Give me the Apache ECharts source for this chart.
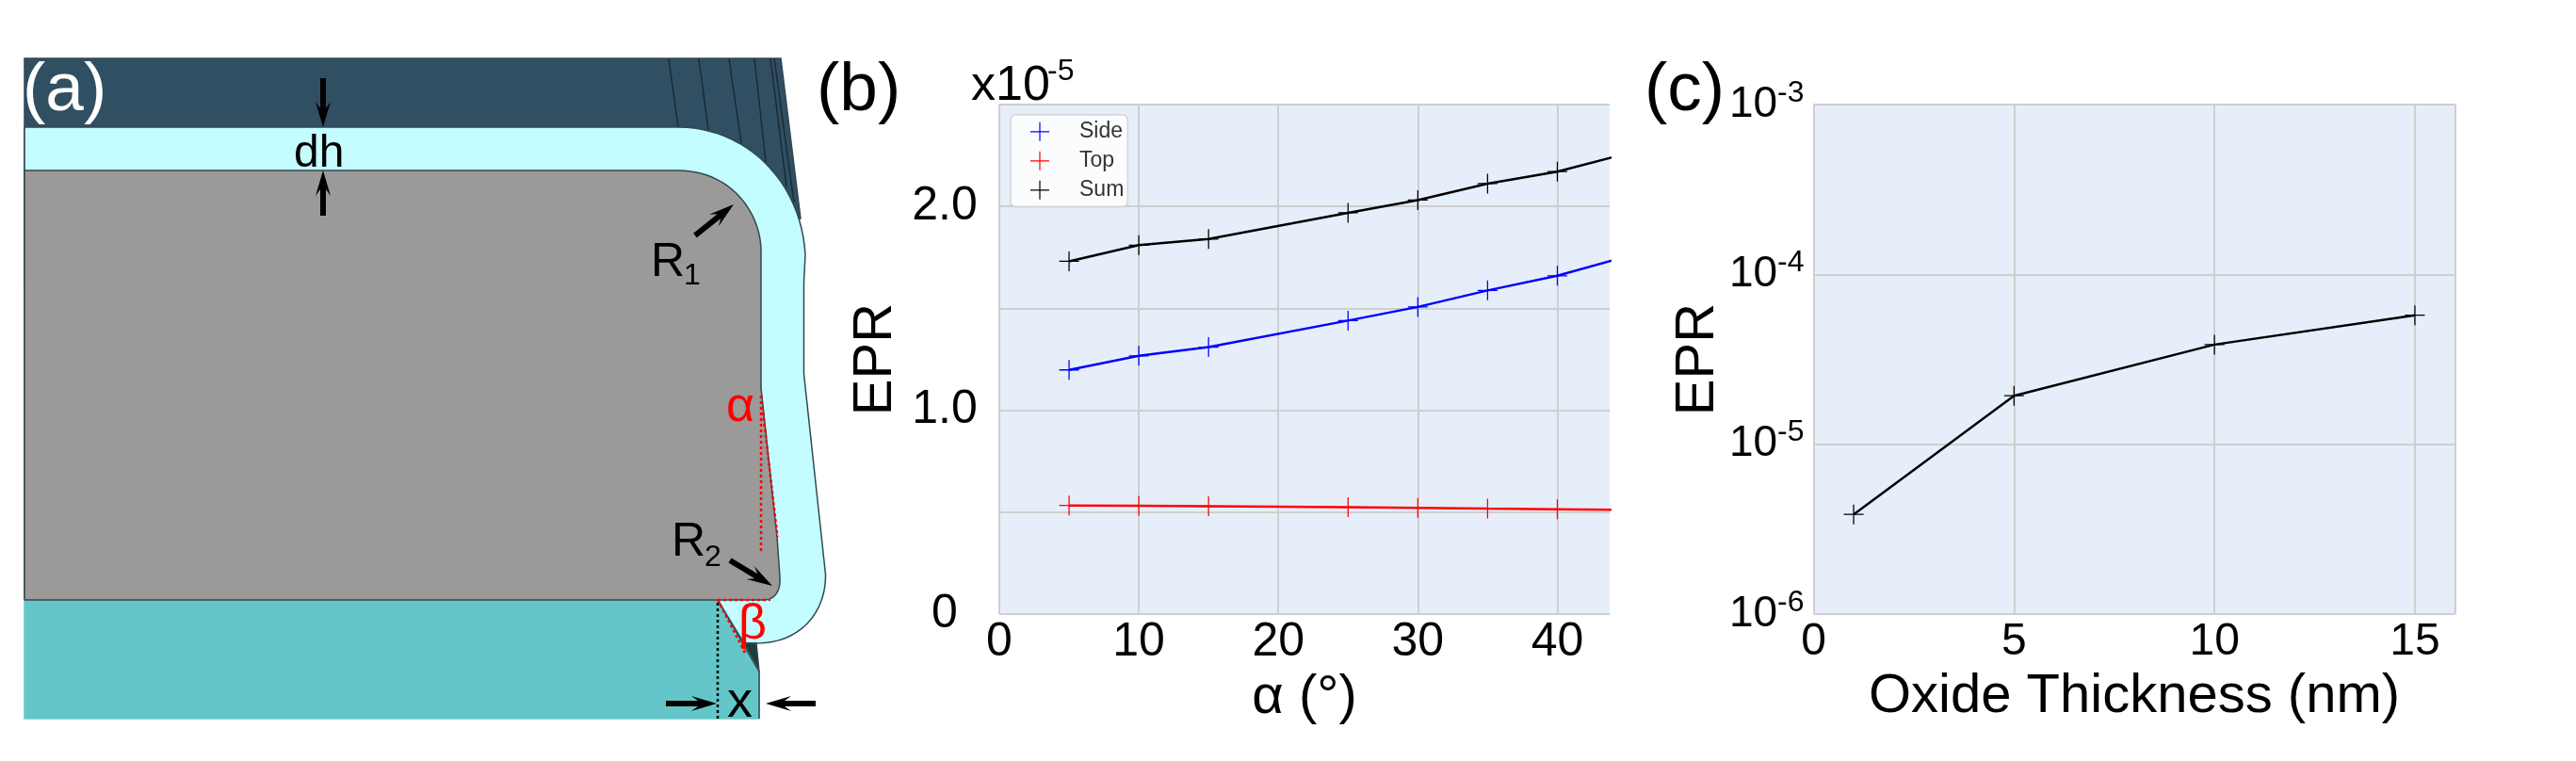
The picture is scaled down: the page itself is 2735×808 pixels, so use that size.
<!DOCTYPE html>
<html>
<head>
<meta charset="utf-8">
<style>
  html, body { margin: 0; padding: 0; background: #fff; }
  #chart { width: 2735px; height: 808px; }
</style>
</head>
<body>
<div id="chart"></div>
<script src="https://cdn.jsdelivr.net/npm/echarts@6/dist/echarts.min.js"></script>
<script>
// panel (b), EPR in units of 1e-5, the last angle runs past the axis end
const angles = [5, 10, 15, 25, 30, 35, 40, 45];
const sideEpr = [1.198, 1.267, 1.31, 1.44, 1.507, 1.588, 1.66, 1.755];
const topEpr = [0.533, 0.531, 0.529, 0.524, 0.521, 0.517, 0.514, 0.511];
const sumEpr = [1.731, 1.81, 1.84, 1.969, 2.031, 2.112, 2.171, 2.26];

// panel (c)
const thickness = [1, 5, 10, 15];
const thicknessEpr = [3.86e-6, 1.93e-5, 3.86e-5, 5.75e-5];

const FONT = '"Liberation Sans", Arial, sans-serif';
const PLUS = 'path://M9.4 0h1.2v9.4H20v1.2h-9.4V20H9.4v-9.4H0V9.4h9.4z';
const GRID_LINE = '#cfcfcf';
const PLOT_BG = '#e6eefa';

const chart = echarts.init(document.getElementById('chart'), null, {renderer: 'canvas'});

const zip = (xs, ys) => xs.map((x, i) => [x, ys[i]]);

const lineSeries = (name, color, xs, ys, index) => ({
    name: name,
    type: 'line',
    xAxisIndex: index,
    yAxisIndex: index,
    data: zip(xs, ys),
    symbol: PLUS,
    symbolSize: 21,
    showSymbol: true,
    clip: true,
    lineStyle: {color: color, width: 2.5},
    itemStyle: {color: color},
    emphasis: {disabled: true}
});

// barbed arrow from (x1,y1) with the tip at (x2,y2)
const arrow = (x1, y1, x2, y2) => {
    const len = Math.hypot(x2 - x1, y2 - y1);
    const ux = (x2 - x1) / len, uy = (y2 - y1) / len;
    const nx = -uy, ny = ux;
    const at = (along, side) => [x1 + ux * along + nx * side, y1 + uy * along + ny * side];
    return {
        type: 'polygon',
        z: 20,
        shape: {points: [
            at(0, -3), at(len - 20, -3), at(len - 27, -8), at(len, 0),
            at(len - 27, 8), at(len - 20, 3), at(0, 3)
        ]},
        style: {fill: '#000'}
    };
};

// sampled corner curve for the device outline
const corner = (a, b, c, d) => {
    const pts = [];
    for (let i = 0; i <= 24; i++) {
        const t = i / 24, s = 1 - t;
        pts.push([
            s * s * s * a[0] + 3 * s * s * t * b[0] + 3 * s * t * t * c[0] + t * t * t * d[0],
            s * s * s * a[1] + 3 * s * s * t * b[1] + 3 * s * t * t * c[1] + t * t * t * d[1]
        ]);
    }
    return pts;
};

const poly = (points, fill, stroke) => ({
    type: 'polygon',
    z: 5,
    shape: {points: points},
    style: {fill: fill, stroke: stroke || '#33474f', lineWidth: 1.5}
});

const seg = (points, color, width, dash) => ({
    type: 'polyline',
    z: 15,
    shape: {points: points},
    style: {fill: null, stroke: color, lineWidth: width, lineDash: dash || null}
});

// y is the text baseline
const label = (x, y, text, size, color) => ({
    type: 'text',
    z: 25,
    x: x,
    y: y - size * 0.76,
    style: {text: text, font: size + 'px ' + FONT, fill: color || '#000'}
});

const oxideOutline = [[26, 135]].concat(
    corner([720, 135], [790, 135], [850, 190], [855, 270]),
    [[853.5, 300], [853.5, 397]],
    corner([876.5, 610], [877, 650], [850, 683], [803, 683]),
    [[790, 683], [762, 637], [26, 637]]
);
const gateOutline = [[26, 181]].concat(
    corner([720, 181], [775, 181], [808, 225], [808, 267]),
    [[808, 412], [825, 570]],
    corner([828, 613], [829, 628], [822, 637], [811, 637]),
    [[26, 637]]
);

const schematic = [
    poly([[26, 62], [829, 62], [850, 232], [700, 300], [26, 300]], '#304f63'),
    seg([[710, 62], [720, 135]], '#1b2b33', 1.5),
    seg([[742, 62], [752, 138]], '#1b2b33', 1.5),
    seg([[774, 62], [787, 152]], '#1b2b33', 1.5),
    seg([[801, 62], [813, 172]], '#1b2b33', 1.5),
    seg([[818, 62], [835, 198]], '#1b2b33', 1.5),
    seg([[822, 62], [843, 215]], '#1b2b33', 1.5),
    poly(oxideOutline, '#c3fdff'),
    poly(gateOutline, '#9b9a98'),
    poly([[790, 683], [803, 683], [806, 713]], '#1c3c42'),
    poly([[26, 637], [762, 637], [806, 713], [806, 763], [26, 763]], '#64c6c8', '#64c6c8'),
    seg([[26, 637], [762, 637]], '#33474f', 1.5),
    seg([[762, 637], [806, 713], [806, 763]], '#33474f', 1.5),

    // red and black guide lines
    seg([[808, 420], [808, 588]], '#ff0000', 2.5, [3, 3]),
    seg([[808, 420], [825.5, 570]], '#ff0000', 2.5, [3, 3]),
    seg([[762, 637], [818, 637]], '#ff0000', 2.5, [3, 3]),
    seg([[762, 637], [792, 695]], '#ff0000', 2.5, [3, 3]),
    seg([[762, 640], [762, 763]], '#000', 2.5, [3, 3]),

    arrow(343, 83, 343, 135),
    arrow(343, 229, 343, 181),
    arrow(738, 250, 779, 217),
    arrow(775, 595, 820, 622),
    arrow(707, 747, 761, 747),
    arrow(866, 747, 813, 747),

    label(312, 176, 'dh', 48),
    label(691, 292, 'R', 50),
    label(726, 301, '1', 32),
    label(713, 589, 'R', 50),
    label(748, 600, '2', 32),
    label(771, 446, 'α', 52, '#ff0000'),
    label(784, 677, 'β', 52, '#ff0000'),
    label(772, 760, 'x', 54),

    // panel letters
    label(24, 116, '(a)', 73, '#fff'),
    label(867, 116, '(b)', 73),
    label(1746, 116, '(c)', 73),

    // exponent above panel (b)
    label(1031, 105, 'x10', 52),
    label(1112, 84, '-5', 32)
];

const option = {
    animation: false,
    backgroundColor: '#fff',
    textStyle: {fontFamily: FONT},
    graphic: schematic,
    grid: [
        {left: 1061, top: 111, width: 648, height: 541, show: true, backgroundColor: PLOT_BG, borderWidth: 0},
        {left: 1925.5, top: 111, width: 681, height: 541, show: true, backgroundColor: PLOT_BG, borderWidth: 0}
    ],
    legend: {
        left: 1073,
        top: 122,
        orient: 'vertical',
        data: ['Side', 'Top', 'Sum'],
        icon: PLUS,
        itemWidth: 20,
        itemHeight: 20,
        itemGap: 8,
        padding: [6.3, 4, 6.3, 21],
        backgroundColor: 'rgba(255,255,255,0.8)',
        borderColor: 'rgba(204,204,204,0.8)',
        borderWidth: 1.5,
        borderRadius: 5,
        textStyle: {fontSize: 23, color: '#333', fontFamily: FONT, padding: [0, 0, 0, 27]}
    },
    xAxis: [
        {
            gridIndex: 0,
            type: 'value',
            min: 0,
            max: 43.75,
            interval: 10,
            name: 'α (°)',
            nameLocation: 'middle',
            nameGap: 56,
            nameTextStyle: {fontSize: 58, color: '#000', fontFamily: FONT},
            axisLine: {show: false},
            axisTick: {show: false},
            splitLine: {show: true, showMaxLine: false, lineStyle: {color: GRID_LINE, width: 2}},
            axisLabel: {fontSize: 50, color: '#000', margin: 5, fontFamily: FONT, showMaxLabel: false}
        },
        {
            gridIndex: 1,
            type: 'value',
            min: 0,
            max: 16,
            interval: 5,
            name: 'Oxide Thickness (nm)',
            nameLocation: 'middle',
            nameGap: 53,
            nameTextStyle: {fontSize: 58, color: '#000', fontFamily: FONT},
            axisLine: {show: false},
            axisTick: {show: false},
            splitLine: {show: true, lineStyle: {color: GRID_LINE, width: 2}},
            axisLabel: {fontSize: 48, color: '#000', margin: 6, fontFamily: FONT, showMaxLabel: false}
        }
    ],
    yAxis: [
        {
            gridIndex: 0,
            type: 'value',
            min: 0,
            max: 2.5,
            interval: 0.5,
            name: 'EPR',
            nameLocation: 'middle',
            nameGap: 102,
            nameTextStyle: {fontSize: 58, color: '#000', fontFamily: FONT},
            axisLine: {show: false},
            axisTick: {show: false},
            splitLine: {show: true, lineStyle: {color: GRID_LINE, width: 2}},
            axisLabel: {
                fontSize: 50,
                color: '#000',
                margin: 58,
                align: 'center',
                padding: [0, 0, 16, 0],
                fontFamily: FONT,
                formatter: (v) => (v === 0 ? '0' : Number.isInteger(v) ? v.toFixed(1) : '')
            }
        },
        {
            gridIndex: 1,
            type: 'log',
            logBase: 10,
            min: 1e-6,
            max: 1e-3,
            name: 'EPR',
            nameLocation: 'middle',
            nameGap: 91,
            nameTextStyle: {fontSize: 58, color: '#000', fontFamily: FONT},
            axisLine: {show: false},
            axisTick: {show: false},
            minorTick: {show: false},
            splitLine: {show: true, lineStyle: {color: GRID_LINE, width: 2}},
            axisLabel: {
                margin: 10,
                color: '#000',
                fontFamily: FONT,
                formatter: (v) => '{b|10}{s|' + Math.round(Math.log10(v)) + '}',
                rich: {
                    b: {fontSize: 46, color: '#000', fontFamily: FONT},
                    s: {fontSize: 32, color: '#000', fontFamily: FONT, padding: [0, 0, 24, 0]}
                }
            }
        }
    ],
    series: [
        lineSeries('Side', '#0000ff', angles, sideEpr, 0),
        lineSeries('Top', '#ff0000', angles, topEpr, 0),
        lineSeries('Sum', '#000000', angles, sumEpr, 0),
        lineSeries('Oxide', '#000000', thickness, thicknessEpr, 1)
    ]
};

chart.setOption(option);
</script>
</body>
</html>
